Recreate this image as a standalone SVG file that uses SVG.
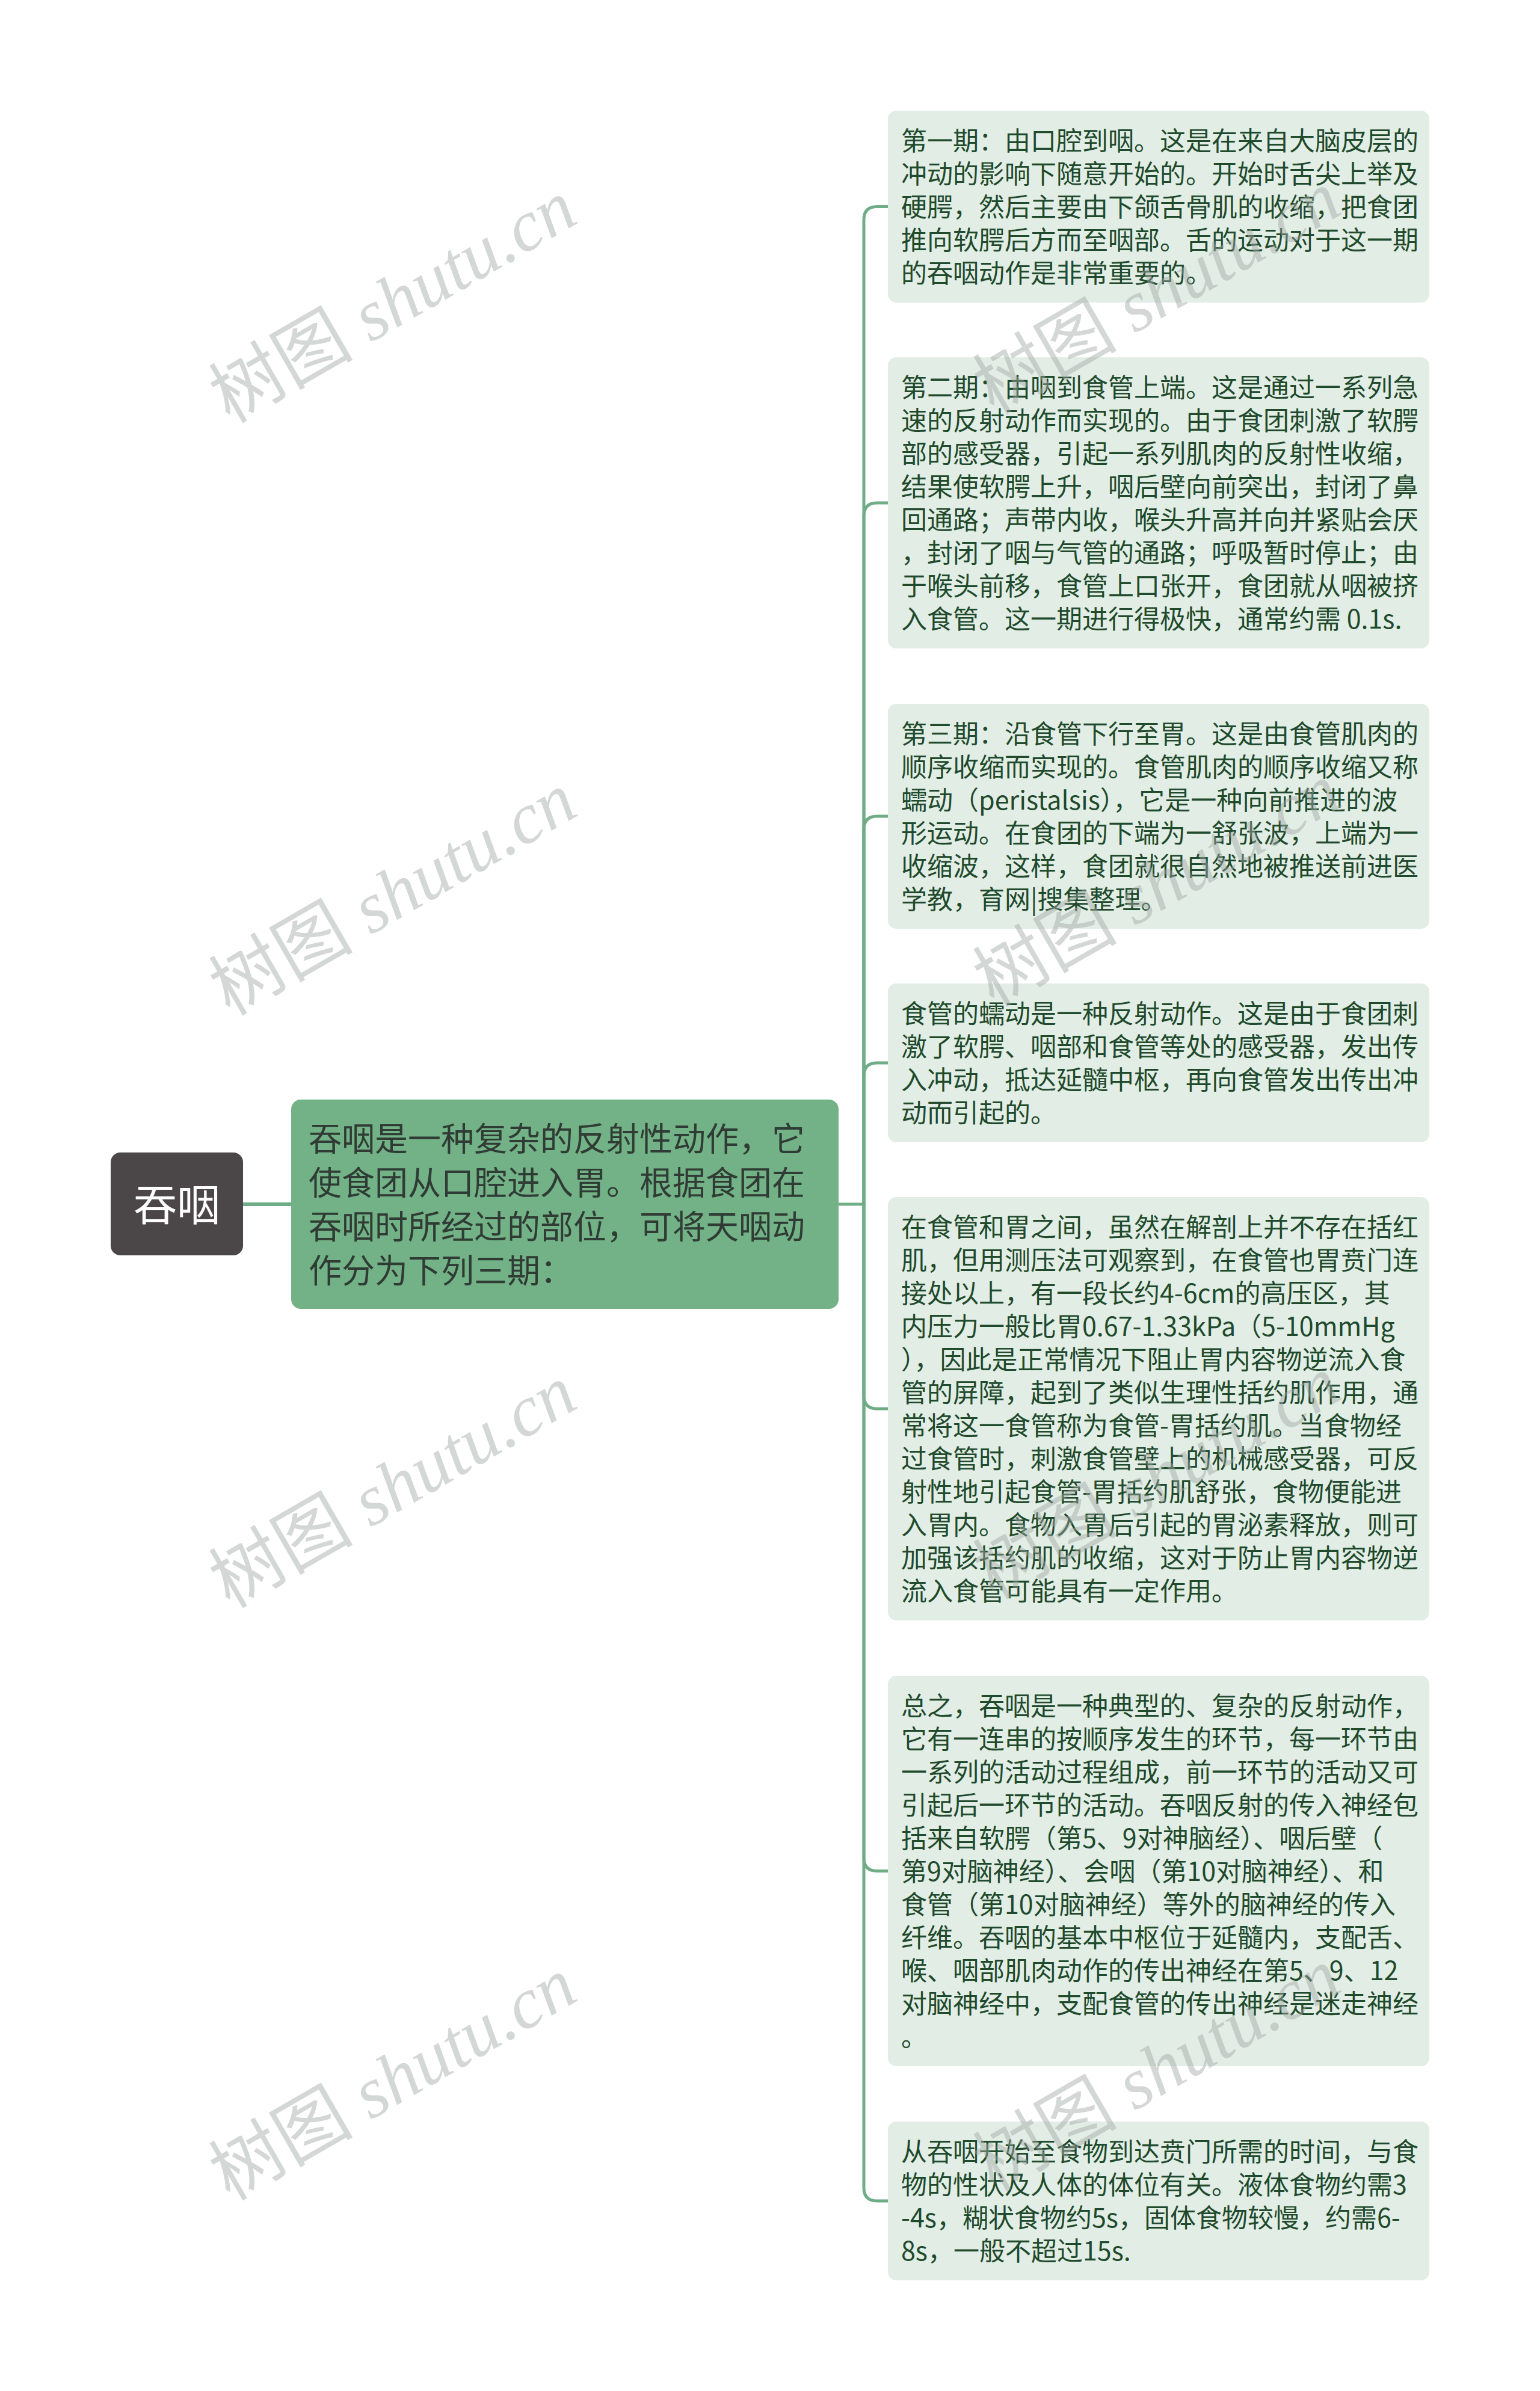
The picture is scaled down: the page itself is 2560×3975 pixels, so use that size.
<svg xmlns="http://www.w3.org/2000/svg" width="2560" height="3975" viewBox="0 0 2560 3975">
<style>
.bg{fill:#ffffff}
.root rect{fill:#4b4647}
.root text{fill:#ffffff;font-family:"Noto Sans CJK SC","Noto Sans",sans-serif;font-size:72px}
.main rect{fill:#72b286}
.main text{fill:#2f3b34;font-family:"Noto Sans CJK SC","Noto Sans",sans-serif;font-size:55px}
.child rect{fill:#e2ede5}
.child text{fill:#1f4a2c;font-family:"Noto Sans CJK SC","Noto Sans",sans-serif;font-size:43px}
.conn path{fill:none;stroke:#70ad87;stroke-width:5;stroke-linecap:round;stroke-linejoin:round}
.wm text{fill:#a0a8a4;opacity:0.45;font-size:120px}
.wm .cj{font-family:"Noto Sans CJK SC",serif}
.wm .lt{font-family:"Liberation Serif",serif;font-style:italic}
</style>
<rect class="bg" x="0" y="0" width="2560" height="3975"/>

<g class="conn" id="connectors">
<path d="M404,2002 H484" style="stroke-width:6"/>
<path d="M1394,2002 H1436"/>
<path d="M1436,2002 V365.5 Q1436,343.5 1458,343.5 H1476"/>
<path d="M1436,2002 V858 Q1436,836 1458,836 H1476"/>
<path d="M1436,2002 V1379 Q1436,1357 1458,1357 H1476"/>
<path d="M1436,2002 V1789 Q1436,1767 1458,1767 H1476"/>
<path d="M1436,2002 V2320 Q1436,2342 1458,2342 H1476"/>
<path d="M1436,2002 V3088.5 Q1436,3110.5 1458,3110.5 H1476"/>
<path d="M1436,2002 V3637 Q1436,3659 1458,3659 H1476"/>
</g>

<g class="root" id="node-root">
<rect x="184" y="1916" width="220" height="171" rx="16"/>
<text x="294" y="2029" text-anchor="middle">吞咽</text>
</g>

<g class="main" id="node-main">
<rect x="484" y="1828" width="910" height="348" rx="16"/>
<text x="513" y="1913">
<tspan x="513" y="1913">吞咽是一种复杂的反射性动作，它</tspan>
<tspan x="513" y="1986">使食团从口腔进入胃。根据食团在</tspan>
<tspan x="513" y="2059">吞咽时所经过的部位，可将天咽动</tspan>
<tspan x="513" y="2132">作分为下列三期：</tspan>
</text>
</g>

<g class="child" id="node-1">
<rect x="1476" y="184" width="900" height="319" rx="14"/>
<text x="1498" y="250">
<tspan x="1498" y="250">第一期：由口腔到咽。这是在来自大脑皮层的</tspan>
<tspan x="1498" y="305">冲动的影响下随意开始的。开始时舌尖上举及</tspan>
<tspan x="1498" y="360">硬腭，然后主要由下颌舌骨肌的收缩，把食团</tspan>
<tspan x="1498" y="415">推向软腭后方而至咽部。舌的运动对于这一期</tspan>
<tspan x="1498" y="470">的吞咽动作是非常重要的。</tspan>
</text>
</g>

<g class="child" id="node-2">
<rect x="1476" y="594" width="900" height="484" rx="14"/>
<text x="1498" y="660">
<tspan x="1498" y="660">第二期：由咽到食管上端。这是通过一系列急</tspan>
<tspan x="1498" y="715">速的反射动作而实现的。由于食团刺激了软腭</tspan>
<tspan x="1498" y="770">部的感受器，引起一系列肌肉的反射性收缩，</tspan>
<tspan x="1498" y="825">结果使软腭上升，咽后壁向前突出，封闭了鼻</tspan>
<tspan x="1498" y="880">回通路；声带内收，喉头升高并向并紧贴会厌</tspan>
<tspan x="1498" y="935">，封闭了咽与气管的通路；呼吸暂时停止；由</tspan>
<tspan x="1498" y="990">于喉头前移，食管上口张开，食团就从咽被挤</tspan>
<tspan x="1498" y="1045">入食管。这一期进行得极快，通常约需 0.1s.</tspan>
</text>
</g>

<g class="child" id="node-3">
<rect x="1476" y="1170" width="900" height="374" rx="14"/>
<text x="1498" y="1236">
<tspan x="1498" y="1236">第三期：沿食管下行至胃。这是由食管肌肉的</tspan>
<tspan x="1498" y="1291">顺序收缩而实现的。食管肌肉的顺序收缩又称</tspan>
<tspan x="1498" y="1346">蠕动（peristalsis），它是一种向前推进的波</tspan>
<tspan x="1498" y="1401">形运动。在食团的下端为一舒张波，上端为一</tspan>
<tspan x="1498" y="1456">收缩波，这样，食团就很自然地被推送前进医</tspan>
<tspan x="1498" y="1511">学教，育网|搜集整理。</tspan>
</text>
</g>

<g class="child" id="node-4">
<rect x="1476" y="1635" width="900" height="264" rx="14"/>
<text x="1498" y="1701">
<tspan x="1498" y="1701">食管的蠕动是一种反射动作。这是由于食团刺</tspan>
<tspan x="1498" y="1756">激了软腭、咽部和食管等处的感受器，发出传</tspan>
<tspan x="1498" y="1811">入冲动，抵达延髓中枢，再向食管发出传出冲</tspan>
<tspan x="1498" y="1866">动而引起的。</tspan>
</text>
</g>

<g class="child" id="node-5">
<rect x="1476" y="1990" width="900" height="704" rx="14"/>
<text x="1498" y="2056">
<tspan x="1498" y="2056">在食管和胃之间，虽然在解剖上并不存在括红</tspan>
<tspan x="1498" y="2111">肌，但用测压法可观察到，在食管也胃贲门连</tspan>
<tspan x="1498" y="2166">接处以上，有一段长约4-6cm的高压区，其</tspan>
<tspan x="1498" y="2221">内压力一般比胃0.67-1.33kPa（5-10mmHg</tspan>
<tspan x="1498" y="2276">），因此是正常情况下阻止胃内容物逆流入食</tspan>
<tspan x="1498" y="2331">管的屏障，起到了类似生理性括约肌作用，通</tspan>
<tspan x="1498" y="2386">常将这一食管称为食管-胃括约肌。当食物经</tspan>
<tspan x="1498" y="2441">过食管时，刺激食管壁上的机械感受器，可反</tspan>
<tspan x="1498" y="2496">射性地引起食管-胃括约肌舒张，食物便能进</tspan>
<tspan x="1498" y="2551">入胃内。食物入胃后引起的胃泌素释放，则可</tspan>
<tspan x="1498" y="2606">加强该括约肌的收缩，这对于防止胃内容物逆</tspan>
<tspan x="1498" y="2661">流入食管可能具有一定作用。</tspan>
</text>
</g>

<g class="child" id="node-6">
<rect x="1476" y="2786" width="900" height="649" rx="14"/>
<text x="1498" y="2852">
<tspan x="1498" y="2852">总之，吞咽是一种典型的、复杂的反射动作，</tspan>
<tspan x="1498" y="2907">它有一连串的按顺序发生的环节，每一环节由</tspan>
<tspan x="1498" y="2962">一系列的活动过程组成，前一环节的活动又可</tspan>
<tspan x="1498" y="3017">引起后一环节的活动。吞咽反射的传入神经包</tspan>
<tspan x="1498" y="3072">括来自软腭（第5、9对神脑经）、咽后壁（</tspan>
<tspan x="1498" y="3127">第9对脑神经）、会咽（第10对脑神经）、和</tspan>
<tspan x="1498" y="3182">食管（第10对脑神经）等外的脑神经的传入</tspan>
<tspan x="1498" y="3237">纤维。吞咽的基本中枢位于延髓内，支配舌、</tspan>
<tspan x="1498" y="3292">喉、咽部肌肉动作的传出神经在第5、9、12</tspan>
<tspan x="1498" y="3347">对脑神经中，支配食管的传出神经是迷走神经</tspan>
<tspan x="1498" y="3402">。</tspan>
</text>
</g>

<g class="child" id="node-7">
<rect x="1476" y="3527" width="900" height="264" rx="14"/>
<text x="1498" y="3593">
<tspan x="1498" y="3593">从吞咽开始至食物到达贲门所需的时间，与食</tspan>
<tspan x="1498" y="3648">物的性状及人体的体位有关。液体食物约需3</tspan>
<tspan x="1498" y="3703">-4s，糊状食物约5s，固体食物较慢，约需6-</tspan>
<tspan x="1498" y="3758">8s，一般不超过15s.</tspan>
</text>
</g>

<g class="wm" id="watermarks">
<text x="382" y="705" transform="rotate(-30 382 705)"><tspan class="cj">树图</tspan><tspan class="lt"> shutu.cn</tspan></text>
<text x="382" y="1690" transform="rotate(-30 382 1690)"><tspan class="cj">树图</tspan><tspan class="lt"> shutu.cn</tspan></text>
<text x="382" y="2675" transform="rotate(-30 382 2675)"><tspan class="cj">树图</tspan><tspan class="lt"> shutu.cn</tspan></text>
<text x="382" y="3660" transform="rotate(-30 382 3660)"><tspan class="cj">树图</tspan><tspan class="lt"> shutu.cn</tspan></text>
<text x="1652" y="690" transform="rotate(-30 1652 690)"><tspan class="cj">树图</tspan><tspan class="lt"> shutu.cn</tspan></text>
<text x="1652" y="1675" transform="rotate(-30 1652 1675)"><tspan class="cj">树图</tspan><tspan class="lt"> shutu.cn</tspan></text>
<text x="1652" y="2660" transform="rotate(-30 1652 2660)"><tspan class="cj">树图</tspan><tspan class="lt"> shutu.cn</tspan></text>
<text x="1652" y="3645" transform="rotate(-30 1652 3645)"><tspan class="cj">树图</tspan><tspan class="lt"> shutu.cn</tspan></text>
</g>
</svg>
